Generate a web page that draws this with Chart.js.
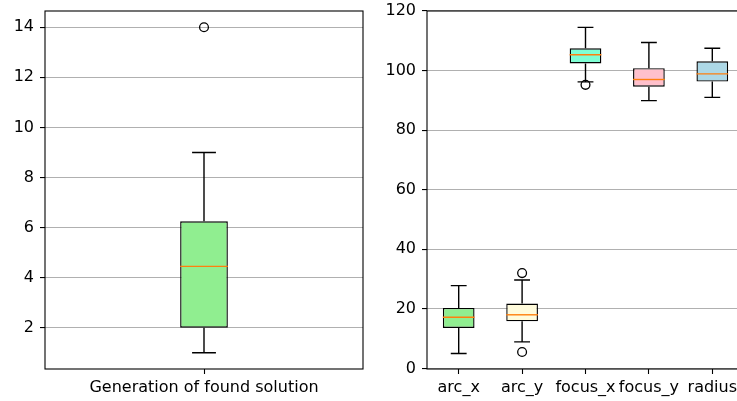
<!DOCTYPE html>
<html>
<head>
<meta charset="utf-8">
<script src="https://cdn.jsdelivr.net/npm/chart.js@4/dist/chart.umd.min.js"></script>
<style>
  html, body { margin: 0; padding: 0; background: #fff; overflow: hidden; width: 737px; height: 401px; }
  #wrap { position: relative; width: 737px; height: 401px; overflow: hidden; }
  #c1 { position: absolute; left: 0; top: 0; }
  #c2 { position: absolute; left: 370px; top: 0; }
</style>
</head>
<body>
<div id="wrap">
<canvas id="c1" width="370" height="401"></canvas>
<canvas id="c2" width="380" height="401"></canvas>
</div>
<script>
// ---- Left panel data ----
const leftCategories = ['Generation of found solution'];
const leftQ1 = [2];
const leftQ3 = [6.25];
const leftMedian = [4.45];
const leftLow = [1];
const leftHigh = [9];
const leftOutliers = [[14]];
const leftColors = ['#90ee90'];
const leftTicks = [2, 4, 6, 8, 10, 12, 14];

// ---- Right panel data ----
const rightCategories = ['arc_x', 'arc_y', 'focus_x', 'focus_y', 'radius'];
const rightQ1 = [13.6, 15.8, 102.4, 94.6, 96.3];
const rightQ3 = [20.3, 21.8, 107.5, 100.8, 103.1];
const rightMedian = [17.2, 18.0, 105.3, 97.0, 98.9];
const rightLow = [5.0, 8.9, 96.2, 89.9, 91.0];
const rightHigh = [27.8, 29.7, 114.5, 109.4, 107.5];
const rightOutliers = [[], [32.0, 5.5], [95.2], [], []];
const rightColors = ['#90ee90', '#fffbdc', '#7fffd4', '#ffc0cb', '#add8e6'];
const rightTicks = [0, 20, 40, 60, 80, 100, 120];

const FONT = { family: 'DejaVu Sans', size: 16 };
Chart.defaults.font.family = 'DejaVu Sans';
Chart.defaults.color = '#000';

const boxPlugin = {
  id: 'boxExtras',
  afterDatasetsDraw(chart, args, opts) {
    const ctx = chart.ctx;
    const xs = chart.scales.x, ys = chart.scales.y;
    const meta = chart.getDatasetMeta(0);
    ctx.save();
    opts.low.forEach((lo, i) => {
      const bar = meta.data[i];
      const cx = xs.getPixelForValue(i);
      const hw = bar.width / 2;
      const yq1 = ys.getPixelForValue(opts.q1[i]);
      const yq3 = ys.getPixelForValue(opts.q3[i]);
      const ylo = ys.getPixelForValue(lo);
      const yhi = ys.getPixelForValue(opts.high[i]);
      ctx.strokeStyle = '#000';
      ctx.lineWidth = 1.4;
      ctx.beginPath();
      ctx.moveTo(cx, yq1); ctx.lineTo(cx, ylo);
      ctx.moveTo(cx, yq3); ctx.lineTo(cx, yhi);
      ctx.moveTo(cx - hw / 2, ylo); ctx.lineTo(cx + hw / 2, ylo);
      ctx.moveTo(cx - hw / 2, yhi); ctx.lineTo(cx + hw / 2, yhi);
      ctx.stroke();
      // median
      const ym = ys.getPixelForValue(opts.median[i]);
      ctx.strokeStyle = '#ff7f0e';
      ctx.beginPath();
      ctx.moveTo(cx - hw, ym); ctx.lineTo(cx + hw, ym);
      ctx.stroke();
      // outliers
      ctx.strokeStyle = '#000';
      ctx.lineWidth = 1.3;
      opts.outliers[i].forEach(v => {
        const yo = ys.getPixelForValue(v);
        ctx.beginPath();
        ctx.arc(cx, yo, 4.4, 0, Math.PI * 2);
        ctx.stroke();
      });
    });
    // frame
    const a = chart.chartArea;
    ctx.strokeStyle = '#000';
    ctx.lineWidth = 1.1;
    ctx.strokeRect(a.left, a.top, a.right - a.left, a.bottom - a.top);
    ctx.restore();
  }
};

function zeroPad(s) { s.paddingTop = 0; s.paddingBottom = 0; s.paddingLeft = 0; s.paddingRight = 0; }

function makeChart(id, cats, q1, q3, med, low, high, outl, colors, ticks, ymin, ymax, barFrac, yWidth, rightPad) {
  return new Chart(document.getElementById(id), {
    type: 'bar',
    data: {
      labels: cats,
      datasets: [{
        data: q1.map((v, i) => [v, q3[i]]),
        backgroundColor: colors,
        borderColor: '#000',
        borderWidth: 1.4,
        borderSkipped: false,
        barPercentage: barFrac,
        categoryPercentage: 1
      }]
    },
    options: {
      responsive: false,
      animation: false,
      devicePixelRatio: 1,
      layout: { padding: { top: 11, right: rightPad, left: 0, bottom: 0 } },
      plugins: {
        legend: { display: false },
        tooltip: { enabled: false },
        boxExtras: { q1: q1, q3: q3, median: med, low: low, high: high, outliers: outl }
      },
      scales: {
        x: {
          type: 'category',
          offset: true,
          grid: { display: true, drawOnChartArea: false, offset: false, tickLength: 5, tickColor: '#000', tickWidth: 1.1 },
          border: { display: false },
          ticks: { font: FONT, color: '#000', padding: 4, maxRotation: 0, autoSkip: false },
          afterFit(s) { s.height = 32; zeroPad(s); }
        },
        y: {
          type: 'linear',
          min: ymin, max: ymax,
          grid: { color: '#b0b0b0', lineWidth: 1.1, tickLength: 5, tickColor: '#000', tickWidth: 1.1 },
          border: { display: false },
          ticks: { font: FONT, color: '#000', padding: 6 },
          afterBuildTicks(s) { s.ticks = ticks.map(v => ({ value: v })); },
          afterFit(s) { s.width = yWidth; zeroPad(s); }
        }
      }
    },
    plugins: [boxPlugin]
  });
}

makeChart('c1', leftCategories, leftQ1, leftQ3, leftMedian, leftLow, leftHigh, leftOutliers, leftColors, leftTicks, 0.35, 14.65, 0.15, 45, 7);
makeChart('c2', rightCategories, rightQ1, rightQ3, rightMedian, rightLow, rightHigh, rightOutliers, rightColors, rightTicks, -0.2, 120, 0.5, 57, 6);
</script>
</body>
</html>
